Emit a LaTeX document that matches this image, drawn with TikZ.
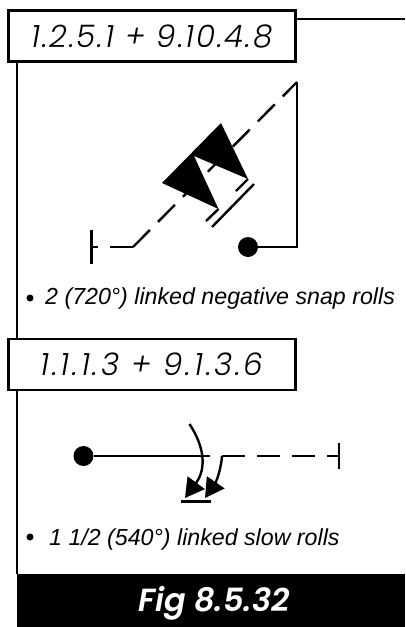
\documentclass[tikz,border=0pt]{standalone}
\usepackage{fontspec}
\setmainfont{Liberation Sans}
\newfontfamily\boxfont{Poppins Light}
\newfontfamily\figfont{Poppins SemiBold}
\usetikzlibrary{arrows.meta}

\begin{document}
\begin{tikzpicture}[
    x=1pt, y=-1pt,
    fig/.style={line width=2.4pt, black},
    dashline/.style={fig, dash pattern=on 24pt off 11.4pt},
    dashflat/.style={fig, dash pattern=on 23pt off 12pt},
    rollarrow/.style={fig, -{Triangle[length=19pt,width=21pt]}},
    headbox/.style={draw=black, line width=2.4pt, fill=white, minimum width=287pt, minimum height=51pt, inner sep=0pt, font=\boxfont\itshape\fontsize{31}{31}\selectfont},
    startdot/.style={circle, fill=black, inner sep=0pt, minimum size=20pt},
    bullet/.style={circle, fill=black, inner sep=0pt, minimum size=7pt},
    caption/.style={anchor=base west, inner sep=0pt, font=\itshape\fontsize{23.2}{24}\selectfont}
]
    \useasboundingbox (0,0) rectangle (405,627);

    % 1. Frame and title bar
    \coordinate (topend) at (405,19);
    \coordinate (barleft) at (17,574);
    \node[fill=black, anchor=north west, minimum width=388pt, minimum height=53pt, inner sep=0pt] (bar) at (barleft) {};
    \node[white, anchor=base, inner sep=0pt, font=\figfont\itshape\fontsize{32}{32}\selectfont] (figlabel) at (214,611) {Fig 8.5.32};

    \node[headbox] (boxa) at (152,36) {\addfontfeatures{LetterSpace=6}1.2.5.1 + 9.10.4.8};
    \node[headbox] (boxb) at (152,364.5) {\addfontfeatures{LetterSpace=9}1.1.1.3 + 9.1.3.6};

    \draw[fig] (boxa.south west -| barleft) -- (boxb.north west -| barleft);
    \draw[fig] (boxb.south west -| barleft) -- (barleft);
    \draw[fig] (boxa.north east |- topend) -- (topend);

    % 2. First figure: two linked snap rolls on the 45 degree line
    \coordinate (tick1a) at (91.5,230);
    \coordinate (tick1b) at (91.5,264);
    \coordinate (stem1) at (91.5,247);
    \coordinate (kink1) at (133,247);
    \coordinate (peak1) at (297,82);
    \coordinate (corner1) at (297,247);
    \node[startdot] (dot1) at (248,247) {};

    \draw[fig] (tick1a) -- (tick1b);
    \draw[dashflat] (kink1) -- (stem1);
    \draw[dashline] (kink1) -- (peak1);
    \draw[fig] (peak1) -- (corner1) -- (dot1);

    \fill (162,183) -- (221,123) -- (248,179) -- (194,156) -- (218.5,209) -- cycle;
    \draw[fig] (218.5,209) -- (206,221);
    \draw[fig] (248,179) -- (236,191);
    \draw[fig] (254,184) -- (212,227);

    \node[bullet] (dota) at (30,298) {};
    \node[caption] (texta) at (45,304) {2 (720°) linked negative snap rolls};

    % 3. Second figure: one and a half linked slow rolls
    \node[startdot] (dot2) at (83.5,456) {};
    \coordinate (stop2) at (210,456);
    \coordinate (kink2) at (222,456);
    \coordinate (stem2) at (339,456);
    \coordinate (tick2a) at (339,443);
    \coordinate (tick2b) at (339,469);
    \coordinate (roll2a) at (189.5,424);
    \coordinate (tip2a) at (185,498);
    \coordinate (tip2b) at (205,498);

    \draw[fig] (dot2) -- (stop2);
    \draw[dashflat] (kink2) -- (stem2);
    \draw[fig] (tick2a) -- (tick2b);
    \draw[rollarrow] (roll2a) .. controls (204,446) and (207,468) .. (tip2a);
    \draw[rollarrow] (kink2) .. controls (221,470) and (216,482) .. (tip2b);
    \draw[fig] (181,501.5) -- (211,501.5);

    \node[bullet] (dotb) at (30,537) {};
    \node[caption] (textb) at (49,545) {1 1/2 (540°) linked slow rolls};
\end{tikzpicture}
\end{document}
